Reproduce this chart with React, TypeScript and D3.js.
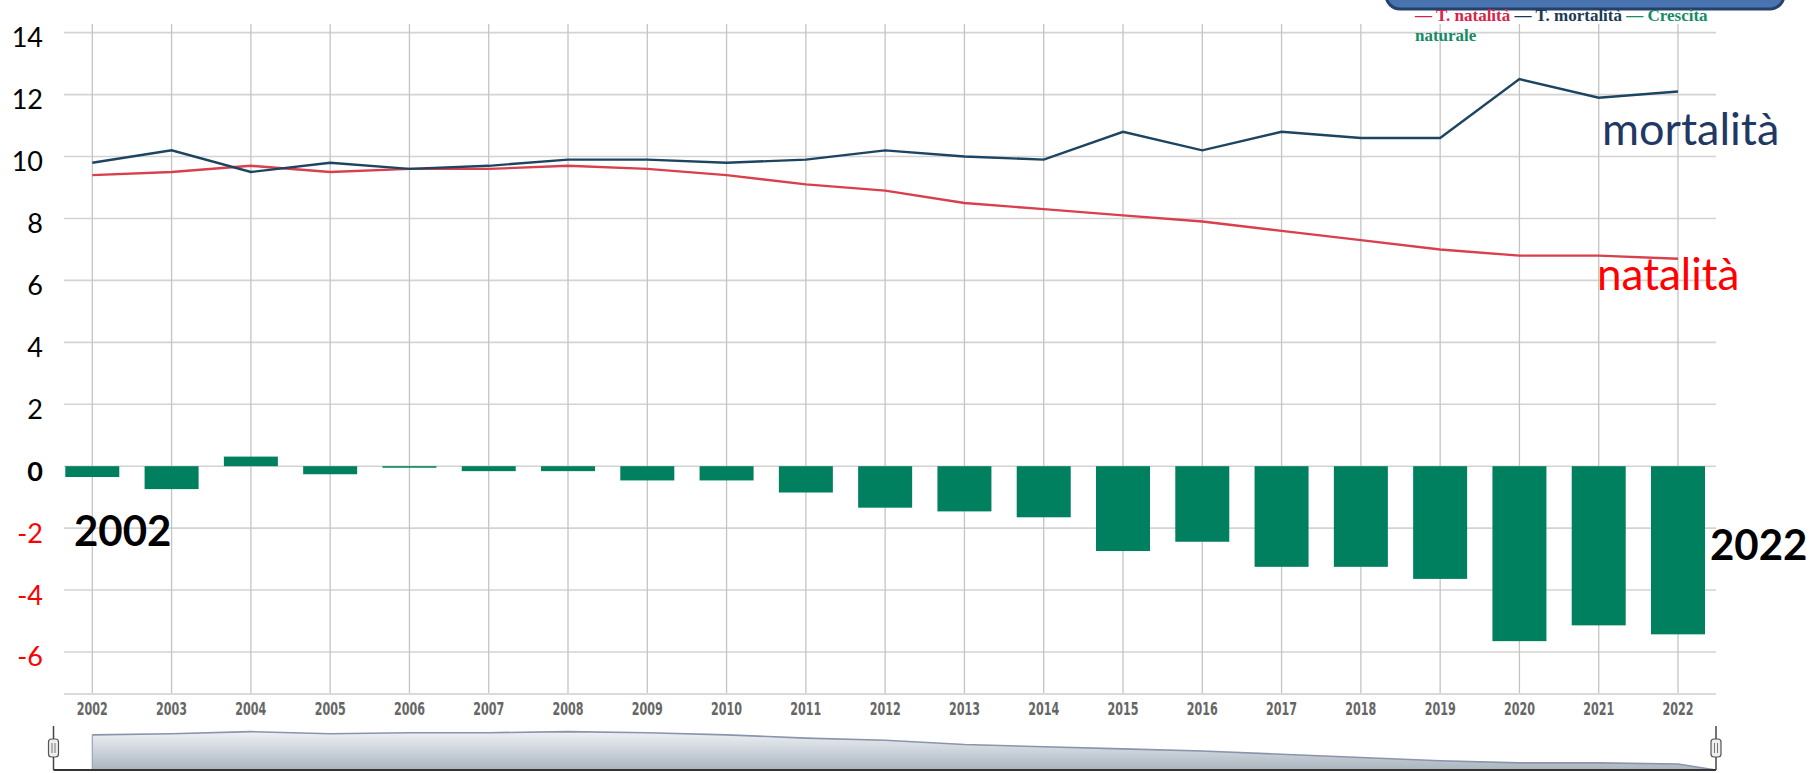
import React from 'react';
import * as d3 from 'd3';

const years = [2002, 2003, 2004, 2005, 2006, 2007, 2008, 2009, 2010, 2011, 2012, 2013, 2014, 2015, 2016, 2017, 2018, 2019, 2020, 2021, 2022];
const natalita = [9.4, 9.5, 9.7, 9.5, 9.6, 9.6, 9.7, 9.6, 9.4, 9.1, 8.9, 8.5, 8.3, 8.1, 7.9, 7.6, 7.3, 7.0, 6.8, 6.8, 6.7];
const mortalita = [9.8, 10.2, 9.5, 9.8, 9.6, 9.7, 9.9, 9.9, 9.8, 9.9, 10.2, 10.0, 9.9, 10.8, 10.2, 10.8, 10.6, 10.6, 12.5, 11.9, 12.1];
const crescita = [-0.35, -0.74, 0.31, -0.26, -0.05, -0.16, -0.16, -0.46, -0.46, -0.85, -1.34, -1.46, -1.65, -2.74, -2.44, -3.25, -3.25, -3.64, -5.65, -5.14, -5.43];
const yTicks = [-6, -4, -2, 0, 2, 4, 6, 8, 10, 12, 14];

const W = 1818;
const H = 773;
const plotLeft = 64;
const plotRight = 1716;
const plotTop = 24;
const plotBottom = 694.1;

export default function App() {
  const x = d3.scalePoint<number>().domain(years).range([92.3, 1678]);
  const y = d3.scaleLinear().domain([-7.36, 14.28]).range([plotBottom, plotTop]);
  const barW = 54;

  const lineGen = d3
    .line<number>()
    .x((_, i) => x(years[i]) as number)
    .y((d) => y(d));

  // navigator
  const navY = d3.scaleLinear().domain([6.144, 10.22]).range([770, 726]);
  const navPts: [number, number][] = natalita.map((v, i) => [x(years[i]) as number, navY(v)]);
  const navTop: [number, number][] = [...navPts, [plotRight, 770]];
  const navArea = d3
    .area<[number, number]>()
    .x((d) => d[0])
    .y0(770)
    .y1((d) => d[1]);
  const navLine = d3
    .line<[number, number]>()
    .x((d) => d[0])
    .y((d) => d[1]);

  const handle = (hx: number) => (
    <g>
      <line x1={hx} x2={hx} y1={726} y2={770} stroke="#444" strokeWidth={1.5} />
      <rect x={hx - 5} y={739} width={10} height={18} rx={3} fill="#eeeeee" stroke="#555" strokeWidth={1.2} />
      <line x1={hx - 1.5} x2={hx - 1.5} y1={743} y2={753} stroke="#777" strokeWidth={1} />
      <line x1={hx + 1.5} x2={hx + 1.5} y1={743} y2={753} stroke="#777" strokeWidth={1} />
    </g>
  );

  return (
    <svg width={W} height={H} style={{ position: 'absolute', left: 0, top: 0, background: '#fff' }}>
      <defs>
        <linearGradient id="navGrad" x1="0" y1="0" x2="0" y2="1">
          <stop offset="0%" stopColor="#eef1f5" />
          <stop offset="100%" stopColor="#aab5bf" />
        </linearGradient>
      </defs>
      <rect x={0} y={0} width={W} height={H} fill="#fff" />

      {/* horizontal gridlines */}
      {yTicks.map((t) => (
        <line key={'h' + t} x1={plotLeft} x2={plotRight} y1={y(t)} y2={y(t)} stroke="#d3d3d3" strokeWidth={1.6} />
      ))}
      {/* vertical gridlines */}
      {years.map((yr) => (
        <line key={'v' + yr} x1={x(yr)} x2={x(yr)} y1={plotTop} y2={plotBottom} stroke="#c4c4c4" strokeWidth={1.3} />
      ))}
      {/* x axis line */}
      <line x1={plotLeft} x2={plotRight} y1={plotBottom} y2={plotBottom} stroke="#dadada" strokeWidth={2} />

      {/* bars */}
      {crescita.map((v, i) => (
        <rect
          key={'b' + i}
          x={(x(years[i]) as number) - barW / 2}
          y={Math.min(y(v), y(0))}
          width={barW}
          height={Math.abs(y(v) - y(0))}
          fill="#00805f"
        />
      ))}

      {/* lines */}
      <path d={lineGen(natalita) || ''} fill="none" stroke="#d8404d" strokeWidth={2.4} />
      <path d={lineGen(mortalita) || ''} fill="none" stroke="#1d4460" strokeWidth={2.4} />

      {/* y tick labels */}
      {yTicks.map((t) => (
        <text
          key={'yl' + t}
          x={43}
          y={y(t) + 4}
          textAnchor="end"
          dominantBaseline="central"
          fontFamily="Lato, 'Noto Sans', sans-serif"
          fontSize={27}
          fontWeight={t === 0 ? 700 : 400}
          fill={t < 0 ? '#ff0000' : '#000'}
        >
          {t}
        </text>
      ))}

      {/* x tick labels */}
      {years.map((yr) => (
        <text
          key={'xl' + yr}
          x={x(yr)}
          y={709}
          textAnchor="middle"
          dominantBaseline="central"
          fontFamily="'Liberation Sans Narrow', 'DejaVu Sans Condensed', 'Liberation Sans', sans-serif"
          fontSize={17}
          fontWeight={700}
          fill="#666"
          textLength={31}
          lengthAdjust="spacingAndGlyphs"
        >
          {yr}
        </text>
      ))}

      {/* annotations */}
      <text x={1602} y={145} fontFamily="Lato, 'Noto Sans', sans-serif" fontSize={45} fill="#1f3864">
        mortalità
      </text>
      <text x={1597} y={290} fontFamily="Lato, 'Noto Sans', sans-serif" fontSize={44} fill="#ff0000">
        natalità
      </text>
      <text x={74} y={546} fontFamily="Lato, 'Noto Sans', sans-serif" fontSize={42} fontWeight={700} fill="#000">
        {years[0]}
      </text>
      <text x={1710} y={560} fontFamily="Lato, 'Noto Sans', sans-serif" fontSize={42} fontWeight={700} fill="#000">
        {years[years.length - 1]}
      </text>

      {/* legend box (cut off at top) */}
      <rect x={1386} y={-30} width={398} height={39} rx={14} fill="#4a74b0" stroke="#24416b" strokeWidth={3} />
      <text x={1415} y={21} fontFamily="'Liberation Serif', 'Times New Roman', serif" fontSize={17} fontWeight={700}>
        <tspan fill="#d7234a">— T. natalità </tspan>
        <tspan fill="#1d3a55">— T. mortalità </tspan>
        <tspan fill="#178a66">— Crescita</tspan>
      </text>
      <text x={1415} y={41} fontFamily="'Liberation Serif', 'Times New Roman', serif" fontSize={17} fontWeight={700} fill="#178a66">
        naturale
      </text>

      {/* navigator */}
      <path d={navArea(navTop) || ''} fill="url(#navGrad)" />
      <line x1={x(years[0])} x2={x(years[0])} y1={navPts[0][1]} y2={770} stroke="#9aa3b5" strokeWidth={1.2} />
      <path d={navLine(navTop) || ''} fill="none" stroke="#8a94aa" strokeWidth={1.6} />
      <line x1={53.5} x2={plotRight} y1={770} y2={770} stroke="#333" strokeWidth={2} />
      {handle(53.5)}
      {handle(plotRight)}
    </svg>
  );
}
